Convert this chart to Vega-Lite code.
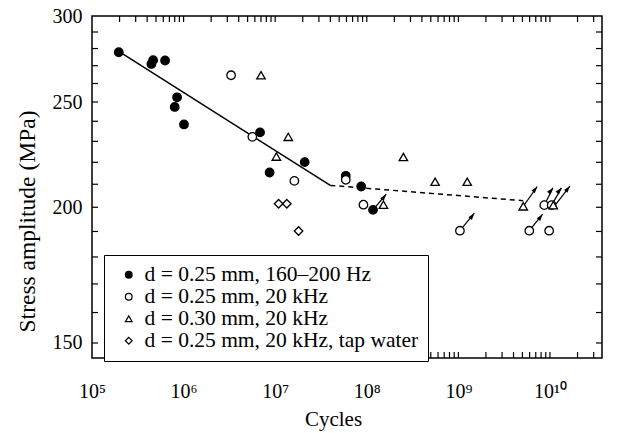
{
  "$schema": "https://vega.github.io/schema/vega-lite/v6.json",
  "width": 510,
  "height": 342,
  "autosize": {"type": "none"},
  "padding": {"left": 92, "top": 16, "right": 17, "bottom": 75},
  "background": "white",
  "config": {
    "view": {"stroke": "black", "strokeWidth": 1.5},
    "font": "Liberation Serif",
    "axis": {
      "domain": false, "ticks": false, "grid": false,
      "labelFont": "Liberation Serif", "labelFontSize": 20, "labelColor": "black",
      "titleFont": "Liberation Serif", "titleFontSize": 21, "titleFontWeight": "normal", "titleColor": "black",
      "labelFlush": false, "labelOverlap": false
    },
    "legend": {"labelFont": "Liberation Serif", "titleFont": "Liberation Serif"},
    "style": {
      "guide-label": {"font": "Liberation Serif"},
      "guide-title": {"font": "Liberation Serif"}
    }
  },
  "datasets": {
    "points": [
      {"cycles": 196000, "stress": 277.8, "series": "d = 0.25 mm, 160–200 Hz"},
      {"cycles": 465000, "stress": 273.2, "series": "d = 0.25 mm, 160–200 Hz"},
      {"cycles": 445000, "stress": 271.0, "series": "d = 0.25 mm, 160–200 Hz"},
      {"cycles": 628000, "stress": 273.0, "series": "d = 0.25 mm, 160–200 Hz"},
      {"cycles": 849000, "stress": 252.5, "series": "d = 0.25 mm, 160–200 Hz"},
      {"cycles": 800000, "stress": 247.4, "series": "d = 0.25 mm, 160–200 Hz"},
      {"cycles": 1010000, "stress": 238.4, "series": "d = 0.25 mm, 160–200 Hz"},
      {"cycles": 6830000, "stress": 234.4, "series": "d = 0.25 mm, 160–200 Hz"},
      {"cycles": 8690000, "stress": 215.3, "series": "d = 0.25 mm, 160–200 Hz"},
      {"cycles": 21000000, "stress": 220.1, "series": "d = 0.25 mm, 160–200 Hz"},
      {"cycles": 59000000, "stress": 213.8, "series": "d = 0.25 mm, 160–200 Hz"},
      {"cycles": 86900000, "stress": 209.0, "series": "d = 0.25 mm, 160–200 Hz"},
      {"cycles": 117000000, "stress": 198.9, "series": "d = 0.25 mm, 160–200 Hz"},
      {"cycles": 3300000, "stress": 264.6, "series": "d = 0.25 mm, 20 kHz"},
      {"cycles": 5630000, "stress": 232.2, "series": "d = 0.25 mm, 20 kHz"},
      {"cycles": 16200000, "stress": 211.5, "series": "d = 0.25 mm, 20 kHz"},
      {"cycles": 59000000, "stress": 212.0, "series": "d = 0.25 mm, 20 kHz"},
      {"cycles": 92000000, "stress": 201.1, "series": "d = 0.25 mm, 20 kHz"},
      {"cycles": 1040000000, "stress": 190.3, "series": "d = 0.25 mm, 20 kHz"},
      {"cycles": 5950000000, "stress": 190.3, "series": "d = 0.25 mm, 20 kHz"},
      {"cycles": 9800000000, "stress": 190.3, "series": "d = 0.25 mm, 20 kHz"},
      {"cycles": 8670000000, "stress": 200.9, "series": "d = 0.25 mm, 20 kHz"},
      {"cycles": 10450000000, "stress": 200.9, "series": "d = 0.25 mm, 20 kHz"},
      {"cycles": 7000000, "stress": 264.6, "series": "d = 0.30 mm, 20 kHz"},
      {"cycles": 10300000, "stress": 222.7, "series": "d = 0.30 mm, 20 kHz"},
      {"cycles": 13900000, "stress": 232.2, "series": "d = 0.30 mm, 20 kHz"},
      {"cycles": 152000000, "stress": 201.1, "series": "d = 0.30 mm, 20 kHz"},
      {"cycles": 251000000, "stress": 222.5, "series": "d = 0.30 mm, 20 kHz"},
      {"cycles": 557000000, "stress": 211.1, "series": "d = 0.30 mm, 20 kHz"},
      {"cycles": 1250000000, "stress": 211.1, "series": "d = 0.30 mm, 20 kHz"},
      {"cycles": 5110000000, "stress": 200.4, "series": "d = 0.30 mm, 20 kHz"},
      {"cycles": 10870000000, "stress": 200.9, "series": "d = 0.30 mm, 20 kHz"},
      {"cycles": 10900000, "stress": 201.5, "series": "d = 0.25 mm, 20 kHz, tap water"},
      {"cycles": 13400000, "stress": 201.5, "series": "d = 0.25 mm, 20 kHz, tap water"},
      {"cycles": 18000000, "stress": 190.2, "series": "d = 0.25 mm, 20 kHz, tap water"}
    ],
    "fit": [
      {"cycles": 200000, "stress": 278.0},
      {"cycles": 40000000, "stress": 209.5}
    ],
    "runout": [
      {"cycles": 40000000, "stress": 209.5},
      {"cycles": 5100000000, "stress": 202.8}
    ],
    "arrows": [
      {"from_cycles": 1040000000, "from_stress": 190.3, "to_cycles": 1494000000, "to_stress": 197.5},
      {"from_cycles": 5950000000, "from_stress": 190.3, "to_cycles": 8320000000, "to_stress": 197.1},
      {"from_cycles": 5110000000, "from_stress": 200.4, "to_cycles": 7270000000, "to_stress": 209.0},
      {"from_cycles": 8670000000, "from_stress": 200.9, "to_cycles": 10780000000, "to_stress": 208.4},
      {"from_cycles": 10450000000, "from_stress": 200.9, "to_cycles": 13350000000, "to_stress": 208.4},
      {"from_cycles": 11630000000, "from_stress": 201.3, "to_cycles": 16520000000, "to_stress": 209.2},
      {"from_cycles": 117000000, "from_stress": 198.9, "to_cycles": 162800000, "to_stress": 205.6}
    ],
    "xticks": [
      {"cycles": 200000}, {"cycles": 300000}, {"cycles": 400000}, {"cycles": 500000}, {"cycles": 600000}, {"cycles": 700000}, {"cycles": 800000}, {"cycles": 900000},
      {"cycles": 1000000}, {"cycles": 2000000}, {"cycles": 3000000}, {"cycles": 4000000}, {"cycles": 5000000}, {"cycles": 6000000}, {"cycles": 7000000}, {"cycles": 8000000}, {"cycles": 9000000},
      {"cycles": 10000000}, {"cycles": 20000000}, {"cycles": 30000000}, {"cycles": 40000000}, {"cycles": 50000000}, {"cycles": 60000000}, {"cycles": 70000000}, {"cycles": 80000000}, {"cycles": 90000000},
      {"cycles": 100000000}, {"cycles": 200000000}, {"cycles": 300000000}, {"cycles": 400000000}, {"cycles": 500000000}, {"cycles": 600000000}, {"cycles": 700000000}, {"cycles": 800000000}, {"cycles": 900000000},
      {"cycles": 1000000000}, {"cycles": 2000000000}, {"cycles": 3000000000}, {"cycles": 4000000000}, {"cycles": 5000000000}, {"cycles": 6000000000}, {"cycles": 7000000000}, {"cycles": 8000000000}, {"cycles": 9000000000},
      {"cycles": 10000000000}, {"cycles": 20000000000}, {"cycles": 30000000000}
    ],
    "yticks": [
      {"stress": 150}, {"stress": 160}, {"stress": 170}, {"stress": 180}, {"stress": 190}, {"stress": 200}, {"stress": 210}, {"stress": 220},
      {"stress": 230}, {"stress": 240}, {"stress": 250}, {"stress": 260}, {"stress": 270}, {"stress": 280}, {"stress": 290}
    ]
  },
  "layer": [
    {
      "data": {"name": "fit"},
      "mark": {"type": "line", "color": "black", "strokeWidth": 1.5},
      "encoding": {
        "x": {
          "field": "cycles", "type": "quantitative",
          "scale": {"type": "log", "domain": [100000, 37000000000], "nice": false},
          "axis": {
            "orient": "bottom",
            "values": [100000, 1000000, 10000000, 100000000, 1000000000, 10000000000],
            "labelExpr": "datum.value == 100000 ? '10⁵' : datum.value == 1000000 ? '10⁶' : datum.value == 10000000 ? '10⁷' : datum.value == 100000000 ? '10⁸' : datum.value == 1000000000 ? '10⁹' : datum.value == 10000000000 ? '10¹⁰' : ''",
            "labelFont": "Liberation Serif",
            "labelBaseline": "alphabetic",
            "labelPadding": 39,
            "title": "Cycles",
            "titleFont": "Liberation Serif",
            "titleX": 241,
            "titleY": 67,
            "titleBaseline": "alphabetic",
            "titleAlign": "center"
          }
        },
        "y": {
          "field": "stress", "type": "quantitative",
          "scale": {"type": "log", "domain": [145.3, 300], "nice": false, "zero": false},
          "axis": {
            "orient": "left",
            "values": [150, 200, 250, 300],
            "labelFont": "Liberation Serif",
            "labelBaseline": "middle",
            "labelPadding": 10,
            "title": "Stress amplitude (MPa)",
            "titleFont": "Liberation Serif",
            "titleFontSize": 23.5,
            "titleX": -65,
            "titleY": 205,
            "titleAngle": -90,
            "titleBaseline": "middle",
            "titleAlign": "center"
          }
        }
      }
    },
    {
      "data": {"name": "xticks"},
      "mark": {"type": "tick", "orient": "vertical", "color": "black", "size": 6, "thickness": 1.2, "yOffset": -3, "opacity": 1},
      "encoding": {
        "x": {"field": "cycles", "type": "quantitative"},
        "y": {"datum": 145.3, "type": "quantitative"}
      }
    },
    {
      "data": {"name": "xticks"},
      "mark": {"type": "tick", "orient": "vertical", "color": "black", "size": 6, "thickness": 1.2, "yOffset": 3, "opacity": 1},
      "encoding": {
        "x": {"field": "cycles", "type": "quantitative"},
        "y": {"datum": 300, "type": "quantitative"}
      }
    },
    {
      "data": {"name": "yticks"},
      "mark": {"type": "tick", "orient": "horizontal", "color": "black", "size": 6, "thickness": 1.2, "xOffset": 3, "opacity": 1},
      "encoding": {
        "y": {"field": "stress", "type": "quantitative"},
        "x": {"datum": 100000, "type": "quantitative"}
      }
    },
    {
      "data": {"name": "yticks"},
      "mark": {"type": "tick", "orient": "horizontal", "color": "black", "size": 6, "thickness": 1.2, "xOffset": -3, "opacity": 1},
      "encoding": {
        "y": {"field": "stress", "type": "quantitative"},
        "x": {"datum": 37000000000, "type": "quantitative"}
      }
    },
    {
      "data": {"name": "runout"},
      "mark": {"type": "line", "color": "black", "strokeWidth": 1.5, "strokeDash": [5, 4]},
      "encoding": {
        "x": {"field": "cycles", "type": "quantitative"},
        "y": {"field": "stress", "type": "quantitative"}
      }
    },
    {
      "data": {"name": "arrows"},
      "mark": {"type": "rule", "color": "black", "strokeWidth": 1.2},
      "encoding": {
        "x": {"field": "from_cycles", "type": "quantitative"},
        "y": {"field": "from_stress", "type": "quantitative"},
        "x2": {"field": "to_cycles"},
        "y2": {"field": "to_stress"}
      }
    },
    {
      "data": {"name": "arrows"},
      "mark": {"type": "point", "shape": "M0,0L0.55,1.7L-0.55,1.7Z", "filled": true, "color": "black", "opacity": 1, "size": 64, "angle": 38},
      "encoding": {
        "x": {"field": "to_cycles", "type": "quantitative"},
        "y": {"field": "to_stress", "type": "quantitative"}
      }
    },
    {
      "data": {"name": "points"},
      "mark": {"type": "point", "strokeWidth": 1.3, "size": 72, "opacity": 1},
      "encoding": {
        "x": {"field": "cycles", "type": "quantitative"},
        "y": {"field": "stress", "type": "quantitative"},
        "shape": {
          "field": "series", "type": "nominal",
          "scale": {
            "domain": ["d = 0.25 mm, 160–200 Hz", "d = 0.25 mm, 20 kHz", "d = 0.30 mm, 20 kHz", "d = 0.25 mm, 20 kHz, tap water"],
            "range": ["circle", "circle", "triangle-up", "diamond"]
          },
          "legend": {
            "orient": "none", "legendX": 12, "legendY": 239, "title": null, "direction": "vertical",
            "strokeColor": "black", "fillColor": "white", "padding": 9,
            "labelFont": "Liberation Serif", "labelFontSize": 21.5, "labelColor": "black", "labelLimit": 500,
            "symbolSize": 45, "symbolStrokeWidth": 1.2,
            "rowPadding": -4, "labelOffset": 5, "symbolOffset": 5
          }
        },
        "fill": {
          "field": "series", "type": "nominal",
          "scale": {
            "domain": ["d = 0.25 mm, 160–200 Hz", "d = 0.25 mm, 20 kHz", "d = 0.30 mm, 20 kHz", "d = 0.25 mm, 20 kHz, tap water"],
            "range": ["black", "white", "white", "white"]
          },
          "legend": {
            "orient": "none", "legendX": 12, "legendY": 239, "title": null, "direction": "vertical",
            "strokeColor": "black", "fillColor": "white", "padding": 9,
            "labelFont": "Liberation Serif", "labelFontSize": 21.5, "labelColor": "black", "labelLimit": 500,
            "symbolSize": 45, "symbolStrokeWidth": 1.2,
            "rowPadding": -4, "labelOffset": 5, "symbolOffset": 5
          }
        },
        "stroke": {
          "field": "series", "type": "nominal",
          "scale": {
            "domain": ["d = 0.25 mm, 160–200 Hz", "d = 0.25 mm, 20 kHz", "d = 0.30 mm, 20 kHz", "d = 0.25 mm, 20 kHz, tap water"],
            "range": ["black", "black", "black", "black"]
          },
          "legend": {
            "orient": "none", "legendX": 12, "legendY": 239, "title": null, "direction": "vertical",
            "strokeColor": "black", "fillColor": "white", "padding": 9,
            "labelFont": "Liberation Serif", "labelFontSize": 21.5, "labelColor": "black", "labelLimit": 500,
            "symbolSize": 45, "symbolStrokeWidth": 1.2,
            "rowPadding": -4, "labelOffset": 5, "symbolOffset": 5
          }
        }
      }
    }
  ]
}
